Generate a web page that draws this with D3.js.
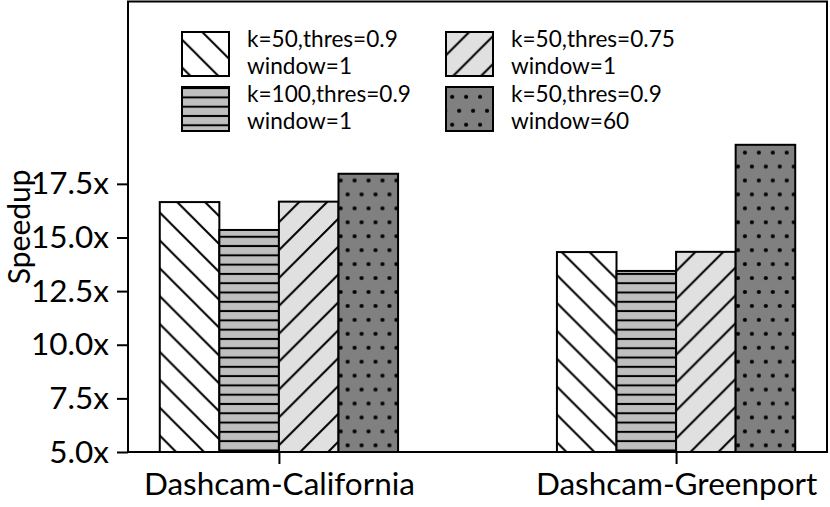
<!DOCTYPE html>
<html><head><meta charset="utf-8">
<script src="https://cdn.jsdelivr.net/npm/d3@7"></script>
<style>body{margin:0;background:#fff} svg{display:block}</style>
</head><body><svg id="c" width="830" height="507"></svg>
<script>
const categories = ["Dashcam-California", "Dashcam-Greenport"];
const seriesLabels = [
  ["k=50,thres=0.9", "window=1"],
  ["k=100,thres=0.9", "window=1"],
  ["k=50,thres=0.75", "window=1"],
  ["k=50,thres=0.9", "window=60"]
];
const seriesK50 = [16.65, 14.32];
const seriesK100 = [15.35, 13.44];
const seriesT075 = [16.67, 14.33];
const seriesW60 = [17.97, 19.32];
const yTicks = [5, 7.5, 10, 12.5, 15, 17.5];
const series = [seriesK50, seriesK100, seriesT075, seriesW60];

const FONT = "Lato";
const svg = d3.select("#c");
const M = {left:128, right:827, top:1.5, bottom:452};
const x = d3.scaleLinear().domain([-0.38, 1.38]).range([M.left, M.right]);
const y = d3.scaleLinear().domain([5, 26]).range([M.bottom, M.top]);
const bw = 0.15;

// hatch patterns (anchored to the page, like matplotlib hatches)
const defs = svg.append("defs");
const P = 27.88;
let p = defs.append("pattern").attr("id","p0").attr("patternUnits","userSpaceOnUse")
  .attr("width",P).attr("height",P).attr("x",3).attr("y",0);
p.append("rect").attr("width",P).attr("height",P).attr("fill","#fff");
p.append("path").attr("d",`M-2,-2L${P+2},${P+2}M${P-2},-2L${P+2},2M-2,${P-2}L2,${P+2}`).attr("stroke","#000").attr("stroke-width",2);

const H = 9.29;
p = defs.append("pattern").attr("id","p1").attr("patternUnits","userSpaceOnUse")
  .attr("width",20).attr("height",H).attr("x",0).attr("y",4.5 - H/2);
p.append("rect").attr("width",20).attr("height",H).attr("fill","#bfbfbf");
p.append("line").attr("x1",-1).attr("x2",21).attr("y1",H/2).attr("y2",H/2).attr("stroke","#000").attr("stroke-width",2);

p = defs.append("pattern").attr("id","p2").attr("patternUnits","userSpaceOnUse")
  .attr("width",P).attr("height",P).attr("x",-0.6).attr("y",0);
p.append("rect").attr("width",P).attr("height",P).attr("fill","#e0e0e0");
p.append("path").attr("d",`M-2,${P+2}L${P+2},-2M-2,2L2,-2M${P-2},${P+2}L${P+2},${P-2}`).attr("stroke","#000").attr("stroke-width",2);

const D = 13.94;
p = defs.append("pattern").attr("id","p3").attr("patternUnits","userSpaceOnUse")
  .attr("width",D).attr("height",2*D).attr("x",6.1).attr("y",13.2);
p.append("rect").attr("width",D).attr("height",2*D).attr("fill","#808080");
[[0,0],[D,0],[0,2*D],[D,2*D],[D/2,D]].forEach(([cx,cy])=>
  p.append("circle").attr("cx",cx).attr("cy",cy).attr("r",2.1).attr("fill","#000"));

// bars
series.forEach((vals, si) => {
  svg.append("g").selectAll("rect").data(vals).join("rect")
    .attr("x", (d,i) => x(i + (si-1.5)*bw - bw/2))
    .attr("width", (d,i) => x(i + (si-1.5)*bw + bw/2) - x(i + (si-1.5)*bw - bw/2))
    .attr("y", d => y(d))
    .attr("height", d => y(5) - y(d))
    .attr("fill", `url(#p${si})`)
    .attr("stroke","#000").attr("stroke-width",2);
});

// axes
const yAxis = d3.axisLeft(y).tickValues(yTicks).tickFormat(d => d3.format(".1f")(d) + "x").tickSize(11).tickPadding(8);
const gy = svg.append("g").attr("transform",`translate(${M.left},0)`).call(yAxis);
const xAxis = d3.axisBottom(x).tickValues([0,1]).tickFormat((d) => categories[d]).tickSize(12).tickPadding(9);
const gx = svg.append("g").attr("transform",`translate(0,${M.bottom})`).call(xAxis);
[gx, gy].forEach(g => {
  g.select(".domain").remove();
  g.selectAll(".tick line").attr("stroke","#000").attr("stroke-width",2);
  g.selectAll("text").attr("fill","#000").style("font-family",FONT).style("font-size","31.5px");
});
gx.selectAll("text").attr("dy","0.71em");

// frame
svg.append("rect").attr("x",M.left).attr("y",M.top).attr("width",M.right-M.left).attr("height",M.bottom-M.top)
  .attr("fill","none").attr("stroke","#000").attr("stroke-width",2);

// y label
svg.append("text").attr("transform",`translate(30,${(M.top+M.bottom)/2}) rotate(-90)`)
  .attr("text-anchor","middle").style("font-family",FONT).style("font-size","30px").text("Speedup");

// legend
const legPos = [[182,32],[182,87],[446,32],[446,87]];
const lg = svg.append("g");
seriesLabels.forEach((lab, si) => {
  const [lx, ly] = legPos[si];
  lg.append("rect").attr("x",lx).attr("y",ly).attr("width",47).attr("height",44)
    .attr("fill",`url(#p${si})`).attr("stroke","#000").attr("stroke-width",2);
  const t = lg.append("text").attr("x",lx+65).attr("y",ly+14.7).style("font-family",FONT).style("font-size","22.6px");
  t.append("tspan").attr("x",lx+65).text(lab[0]);
  t.append("tspan").attr("x",lx+65).attr("dy",27.3).text(lab[1]);
});
</script></body></html>
